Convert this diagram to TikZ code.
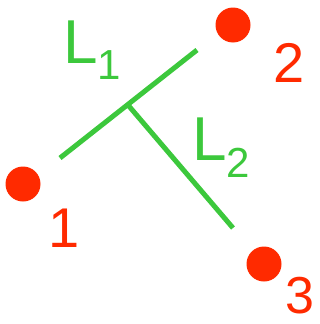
\documentclass[tikz,border=0pt]{standalone}
\usepackage{fontspec}
\setmainfont{Liberation Sans}
\definecolor{ptred}{HTML}{FF2A00}
\definecolor{lngreen}{HTML}{3CC83C}
\usetikzlibrary{positioning}

\begin{document}
\begin{tikzpicture}[x=1pt, y=-1pt,
        dot/.style={circle, fill=ptred, inner sep=0pt, minimum size=35pt},
        num/.style={text=ptred, inner sep=0pt, anchor=base,
                    font=\fontsize{56}{56}\selectfont},
        lname/.style={text=lngreen, inner sep=0pt, anchor=base west,
                      font=\fontsize{62}{62}\selectfont},
        seg/.style={draw=lngreen, line width=5pt}
      ]
      \useasboundingbox (0,0) rectangle (320,324);
      % points
      \node[dot] (p1) at (23,184) {};
      \node[dot] (p2) at (233,25) {};
      \node[dot] (p3) at (264,264) {};
      \node[num] (n1) at (64,247) {1};
      \node[num] (n2) at (289,82) {2};
      \node[num, font=\fontsize{52}{52}\selectfont] (n3) at (300,313) {3};

      % lines
      \coordinate (a) at (60,158);
      \coordinate (b) at (197,50);
      \coordinate (j) at (128,105);
      \coordinate (c) at (233,228);
      \draw[seg] (a) -- (b);
      \draw[seg] (j) -- (c);

      \node[lname] (l1) at (63,63)
        {L\raisebox{-17pt}{\fontsize{42}{42}\selectfont 1}};
      \node[lname] (l2) at (192,160)
        {L\raisebox{-17pt}{\fontsize{42}{42}\selectfont 2}};
    \end{tikzpicture}
\end{document}
